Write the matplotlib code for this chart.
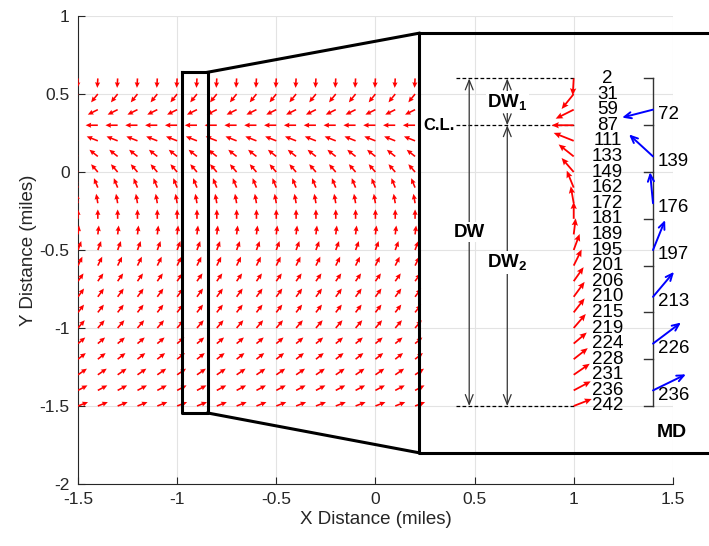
import numpy as np
import matplotlib
matplotlib.use("Agg")
import matplotlib.pyplot as plt

plt.rcParams['font.family'] = ['Liberation Sans', 'DejaVu Sans']
plt.rcParams['axes.unicode_minus'] = False
plt.rcParams['mathtext.fontset'] = 'custom'
plt.rcParams['mathtext.rm'] = 'Liberation Sans'
plt.rcParams['mathtext.bf'] = 'Liberation Sans:bold'

# grid of the field (miles)
grid_x = np.round(np.arange(-1.5, 0.21, 0.1), 2)
grid_y = np.round(np.arange(0.6, -1.51, -0.1), 2)

# vector components per row (same for every column), top row first
row_u = [-0.005, -0.061, -0.091, -0.111, -0.101, -0.076, -0.061, -0.035, -0.015, 0.0, 0.010,
         0.030, 0.040, 0.050, 0.055, 0.055, 0.061, 0.066, 0.071, 0.081, 0.086, 0.091]
row_v = [-0.109, -0.096, -0.058, 0.0, 0.051, 0.077, 0.090, 0.109, 0.109, 0.109, 0.103,
         0.103, 0.103, 0.090, 0.096, 0.090, 0.090, 0.071, 0.071, 0.071, 0.058, 0.045]

# measured depth of each row
md_rows = [2, 31, 59, 87, 111, 133, 149, 162, 172, 181, 189, 195, 201, 206, 210, 215,
           219, 224, 228, 231, 236, 242]
# binned measured depth and mean vectors
md_bins = [72, 139, 176, 197, 213, 226, 236]
bin_u = [-0.156, -0.121, -0.015, 0.061, 0.106, 0.141, 0.166]
bin_v = [-0.051, 0.141, 0.199, 0.192, 0.160, 0.135, 0.103]

fig = plt.figure(figsize=(7.09, 5.46), dpi=100)
ax = fig.add_axes([0.110, 0.1136, 0.839, 0.857])
ax.set_xlim(-1.5, 1.5)
ax.set_ylim(-2, 1)
ax.set_xticks(np.arange(-1.5, 1.51, 0.5))
ax.set_yticks(np.arange(-2, 1.01, 0.5))
ax.set_xticklabels(['-1.5', '-1', '-0.5', '0', '0.5', '1', '1.5'])
ax.set_yticklabels(['-2', '-1.5', '-1', '-0.5', '0', '0.5', '1'])
ax.grid(True, color='#e3e3e3', lw=0.8)
ax.set_axisbelow(True)
for s in ['top', 'right']:
    ax.spines[s].set_visible(False)
for s in ['left', 'bottom']:
    ax.spines[s].set_color('#262626')
    ax.spines[s].set_linewidth(0.8)
ax.tick_params(direction='in', length=5, colors='#262626', labelsize=12.5, pad=6)
ax.set_xlabel('X Distance (miles)', fontsize=13.5, color='#262626', labelpad=3)
ax.set_ylabel('Y Distance (miles)', fontsize=13.5, color='#262626', labelpad=2)

# main field
X, Y = np.meshgrid(grid_x, grid_y)
U = np.tile(np.array(row_u)[:, None], (1, len(grid_x)))
V = np.tile(np.array(row_v)[:, None], (1, len(grid_x)))
ax.quiver(X, Y, U, V, color='red', angles='xy', scale_units='xy', scale=1.8,
          pivot='tail', units='dots', width=1.6, headwidth=3.2, headlength=3.5,
          headaxislength=3.2, zorder=3)

# selection box and zoom lines
k = dict(color='black', lw=2.2, zorder=5)
ax.plot([-0.975, -0.845, -0.845, -0.975, -0.975], [0.64, 0.64, -1.545, -1.545, 0.64], **k)
ax.plot([-0.845, 0.22], [0.64, 0.89], **k)
ax.plot([-0.845, 0.22], [-1.545, -1.80], **k)
ax.plot([1.75, 0.22, 0.22, 1.75], [0.89, 0.89, -1.80, -1.80], clip_on=False, **k)

# zoomed column
ax.quiver(np.full(len(grid_y), 1.0), grid_y, row_u, row_v, color='red', angles='xy',
          scale_units='xy', scale=1, pivot='tail', units='dots', width=1.8,
          headwidth=3.5, headlength=4, headaxislength=3.5, zorder=3)
for yv, md in zip(grid_y, md_rows):
    ax.text(1.17, yv, str(md), ha='center', va='center', fontsize=13.5, color='black')

# dimension lines
for yv in [0.6, 0.3, -1.5]:
    ax.plot([0.405, 1.0], [yv, yv], 'k--', lw=0.9, dashes=(3, 1.8))
ax.text(0.40, 0.3, 'C.L.', ha='right', va='center', fontsize=12, fontweight='bold')
ap = dict(arrowstyle='<->,head_length=0.7,head_width=0.28', lw=0.9, color='#333333',
          shrinkA=0, shrinkB=0)
ax.annotate('', xy=(0.473, 0.6), xytext=(0.473, -1.5), arrowprops=ap)
ax.annotate('', xy=(0.665, 0.6), xytext=(0.665, 0.3), arrowprops=ap)
ax.annotate('', xy=(0.665, 0.3), xytext=(0.665, -1.5), arrowprops=ap)
wb = dict(facecolor='white', edgecolor='none', pad=1)
ax.text(0.473, -0.385, 'DW', ha='center', va='center', fontsize=13.5, fontweight='bold', bbox=wb)
ax.text(0.665, 0.45, r'$\mathbf{DW_1}$', ha='center', va='center', fontsize=13.5, bbox=wb)
ax.text(0.665, -0.58, r'$\mathbf{DW_2}$', ha='center', va='center', fontsize=13.5, bbox=wb)

# MD bracket and binned vectors
tops = np.round(np.arange(0.6, -1.51, -0.3), 2)
ax.plot([1.40, 1.40], [0.6, -1.5], color='#333333', lw=1, clip_on=False)
for t in tops:
    ax.plot([1.355, 1.40], [t, t], color='#333333', lw=1)
for t, md, u, v in zip(tops[:-1], md_bins, bin_u, bin_v):
    ax.annotate('', xy=(1.40 + u, t - 0.2 + v), xytext=(1.40, t - 0.2),
                annotation_clip=False,
                arrowprops=dict(arrowstyle='->,head_length=0.5,head_width=0.22',
                                color='#0000ff', lw=1.4, shrinkA=0, shrinkB=0))
    ax.text(1.425, t - 0.23, str(md), ha='left', va='center', fontsize=13.5)
ax.text(1.497, -1.673, 'MD', ha='center', va='center', fontsize=14, fontweight='bold')

fig.savefig('out.png', dpi=100)
